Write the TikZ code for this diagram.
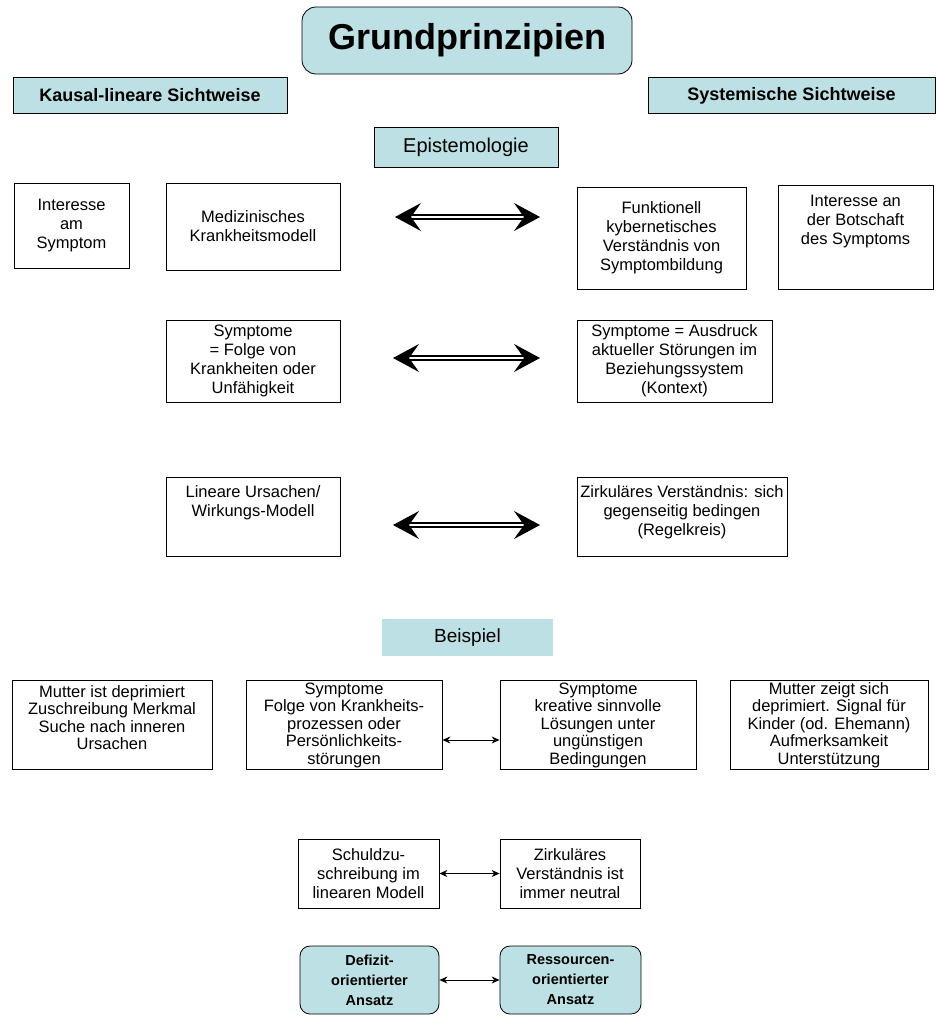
\documentclass[tikz,border=0pt]{standalone}
\usepackage{fontspec}
\setmainfont{Liberation Sans}
\usetikzlibrary{arrows.meta}
\definecolor{hdrfill}{RGB}{188,224,227}
\tikzset{
  bx/.style={draw=black, line width=0.8pt, inner sep=0pt},
  hdr/.style={bx, fill=hdrfill},
  txt/.style={align=center, inner sep=0pt, font=\fontsize{16.5}{19}\selectfont},
  rtxt/.style={align=center, inner sep=0pt, font=\fontsize{16.5}{17.5}\selectfont},
  btxt/.style={align=center, inner sep=0pt, font=\fontsize{14.5}{20}\selectfont\bfseries},
  dblarrow/.style={double=white, double distance=2.6pt, line width=1.5pt,
    {Stealth[length=26pt,width=28pt,inset=10pt]}-{Stealth[length=26pt,width=28pt,inset=10pt]}},
  smlarrow/.style={line width=0.9pt, {Stealth[length=8pt,width=7pt]}-{Stealth[length=8pt,width=7pt]}},
}
\begin{document}
\begin{tikzpicture}[x=1pt,y=-1pt]
\useasboundingbox (0,0) rectangle (939,1017);

% headers
\node[hdr, rounded corners=14pt, minimum width=330pt, minimum height=67pt,
  font=\fontsize{36}{42}\selectfont\bfseries] (title) at (467,40.5) {Grundprinzipien};
\node[hdr, minimum width=274pt, minimum height=36pt, font=\fontsize{18}{21}\selectfont\bfseries]
  (kausal) at (150,95.5) {Kausal-lineare Sichtweise};
\node[hdr, minimum width=287pt, minimum height=36pt, font=\fontsize{18}{21}\selectfont\bfseries]
  (syst) at (791.5,95.5) {Systemische Sichtweise};
\node[hdr, minimum width=184pt, minimum height=40pt, font=\fontsize{20}{24}\selectfont]
  (epist) at (466,147) {Epistemologie};

% row 1
\node[bx, txt, minimum width=115pt, minimum height=85pt] (intA) at (71.5,225.5)
  {Interesse\\am\\Symptom};
\node[bx, txt, minimum width=174pt, minimum height=87pt] (med) at (253,226.5)
  {Medizinisches\\Krankheitsmodell};
\node[bx, txt, minimum width=169pt, minimum height=102pt] (funkt) at (661.5,238)
  {Funktionell\\kybernetisches\\Verständnis von\\Symptombildung};
\node[bx, minimum width=155pt, minimum height=104pt] (intB) at (855.5,237) {};
\node[txt, anchor=north] (intBt) at ([yshift=-10pt]intB.north)
  {Interesse an\\der Botschaft\\des Symptoms};
\coordinate (d1a) at (395,217);
\coordinate (d1b) at (540,217);
\draw[dblarrow] (d1a) -- (d1b);

% row 2
\node[bx, txt, minimum width=174pt, minimum height=82pt] (folge) at (253,361)
  {Symptome\\= Folge von\\Krankheiten oder\\Unfähigkeit};
\node[bx, txt, minimum width=195pt, minimum height=82pt] (ausdruck) at (674.5,361)
  {Symptome = Ausdruck\\aktueller Störungen im\\Beziehungssystem\\(Kontext)};
\coordinate (d2a) at (393,358);
\coordinate (d2b) at (540,358);
\draw[dblarrow] (d2a) -- (d2b);

% row 3
\node[bx, minimum width=174pt, minimum height=79pt] (linear) at (253,516.5) {};
\node[txt, anchor=north] (lineart) at ([yshift=-9pt]linear.north)
  {Lineare Ursachen/\\Wirkungs-Modell};
\node[bx, minimum width=210pt, minimum height=79pt] (zirk) at (682,516.5) {};
\node[txt, anchor=north] (zirkt) at ([yshift=-9pt]zirk.north)
  {Zirkuläres Verständnis: sich\\gegenseitig bedingen\\(Regelkreis)};
\coordinate (d3a) at (393,525);
\coordinate (d3b) at (540,525);
\draw[dblarrow] (d3a) -- (d3b);

% Beispiel
\node[fill=hdrfill, inner sep=0pt, minimum width=171pt, minimum height=37pt,
  font=\fontsize{19}{22}\selectfont] (beisp) at (467.5,637.5) {Beispiel};

% row 4
\node[bx, minimum width=200pt, minimum height=89pt] (mutA) at (112,725) {};
\node[rtxt, anchor=north] (mutAt) at ([yshift=-5pt]mutA.north)
  {Mutter ist deprimiert\\Zuschreibung Merkmal\\Suche nach inneren\\Ursachen};
\node[bx, rtxt, minimum width=196pt, minimum height=89pt] (sympF) at (344,725)
  {Symptome\\Folge von Krankheits-\\prozessen oder\\Persönlichkeits-\\störungen};
\node[bx, rtxt, minimum width=196pt, minimum height=89pt] (sympK) at (598,725)
  {Symptome\\kreative sinnvolle\\Lösungen unter\\ungünstigen\\Bedingungen};
\node[bx, rtxt, minimum width=198pt, minimum height=89pt] (mutZ) at (829,725)
  {Mutter zeigt sich\\deprimiert. Signal für\\Kinder (od. Ehemann)\\Aufmerksamkeit\\Unterstützung};
\draw[smlarrow] ([yshift=-15pt]sympF.east) -- ([yshift=-15pt]sympK.west);

% row 5
\node[bx, txt, minimum width=141pt, minimum height=69pt] (schuld) at (368.5,873.5)
  {Schuldzu-\\schreibung im\\linearen Modell};
\node[bx, txt, minimum width=140pt, minimum height=69pt] (neutral) at (570,873.5)
  {Zirkuläres\\Verständnis ist\\immer neutral};
\draw[smlarrow] (schuld.east) -- (neutral.west);

% row 6
\node[hdr, btxt, rounded corners=10pt, minimum width=139pt, minimum height=68pt]
  (defizit) at (369.5,980) {Defizit-\\orientierter\\Ansatz};
\node[hdr, btxt, rounded corners=10pt, minimum width=141pt, minimum height=68pt]
  (ressource) at (570.5,980) {Ressourcen-\\orientierter\\Ansatz};
\draw[smlarrow] (defizit.east) -- (ressource.west);
\end{tikzpicture}
\end{document}
